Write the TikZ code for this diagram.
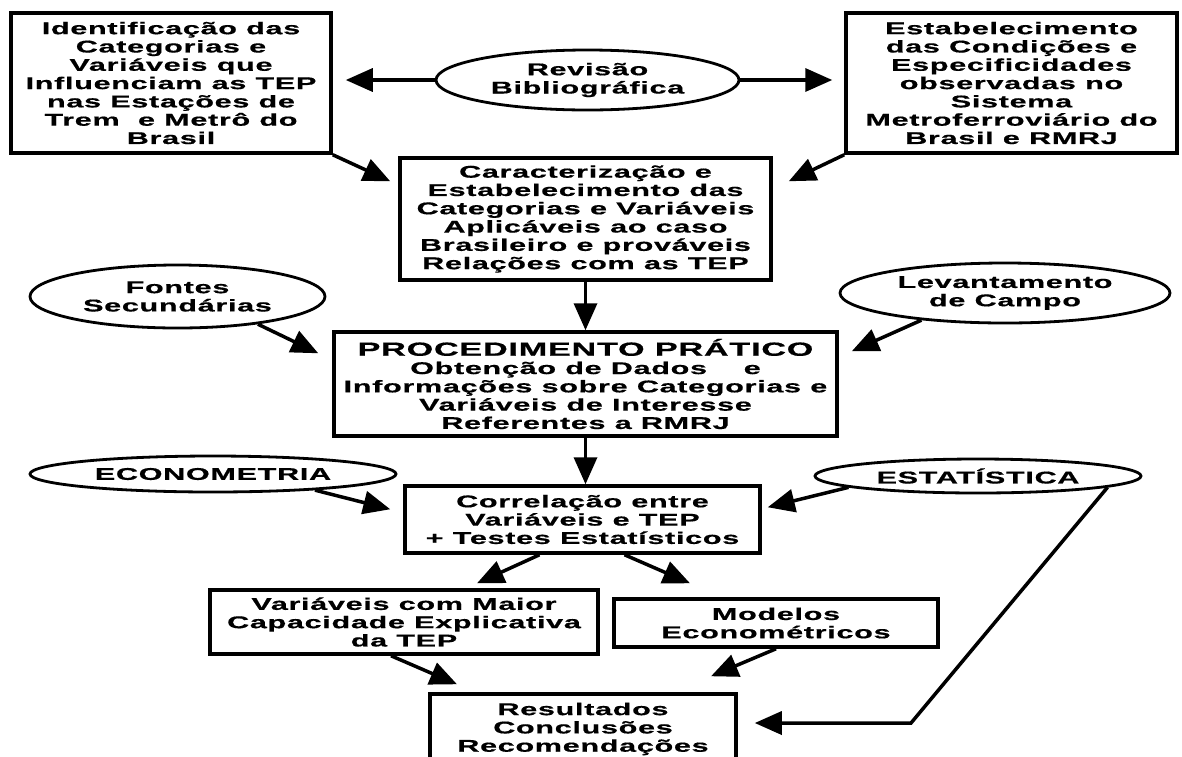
\documentclass[tikz,border=0pt]{standalone}
\usepackage{fontspec}
\newfontfamily\diagfont{Liberation Sans Bold}[FakeStretch=1.8,LetterSpace=4,FakeBold=0.6]
\usepackage{tikz}
\usetikzlibrary{shapes,arrows,arrows.meta}
\tikzstyle{block} = [rectangle, draw, line width=3.5pt, fill=white,
    align=center, inner sep=2pt, font=\diagfont\fontsize{17}{18.3}\selectfont]
\tikzstyle{source} = [ellipse, draw, line width=2.8pt, fill=white,
    align=center, inner sep=0pt, font=\diagfont\fontsize{17}{18.3}\selectfont]
\tikzstyle{line} = [draw, line width=3.5pt, -{Triangle[length=27pt,width=23pt]}]

\begin{document}
\begin{tikzpicture}[x=1pt, y=-1pt, auto]
\useasboundingbox (0,0) rectangle (1182,756);
    % Place nodes
\node [block, minimum width=320pt, minimum height=140pt] (ident) at (171,83)
    {Identificação das\\Categorias e\\Variáveis que\\Influenciam as TEP\\nas Estações de\\Trem\ \ e Metrô do\\Brasil};
\node [source, minimum width=303pt, minimum height=60pt] (rev) at (587.5,80)
    {Revisão\\Bibliográfica};
\node [block, minimum width=331pt, minimum height=140pt] (estab) at (1011.5,83)
    {Estabelecimento\\das Condições e\\Especificidades\\observadas no\\Sistema\\Metroferroviário do\\Brasil e RMRJ};
\node [block, minimum width=371pt, minimum height=122pt] (carac) at (585.5,219)
    {Caracterização e\\Estabelecimento das\\Categorias e Variáveis\\Aplicáveis ao caso\\Brasileiro e prováveis\\Relações com as TEP};
\node [source, minimum width=295pt, minimum height=63pt] (fontes) at (177.5,296.5)
    {Fontes\\Secundárias};
\node [source, minimum width=330pt, minimum height=60pt] (campo) at (1005,293)
    {Levantamento\\de Campo};
\node [block, minimum width=503pt, minimum height=104pt] (proc) at (585.5,384)
    {{\fontsize{19}{21}\selectfont PROCEDIMENTO PRÁTICO}\\Obtenção de Dados\ \ \ \ e\\Informações sobre Categorias e\\Variáveis de Interesse\\Referentes a RMRJ};
\node [source, minimum width=366pt, minimum height=36pt] (econ) at (213,474)
    {ECONOMETRIA};
\node [source, minimum width=326pt, minimum height=34pt] (estat) at (978,476)
    {ESTATÍSTICA};
\node [block, minimum width=355pt, minimum height=67pt] (correl) at (582.5,519.5)
    {Correlação entre\\Variáveis e TEP\\+ Testes Estatísticos};
\node [block, minimum width=388pt, minimum height=64pt] (varmax) at (404,622)
    {Variáveis com Maior\\Capacidade Explicativa\\da TEP};
\node [block, minimum width=324pt, minimum height=48pt] (model) at (776,623)
    {Modelos\\Econométricos};
\node [block, minimum width=306pt, minimum height=70pt] (result) at (583,729)
    {Resultados\\Conclusões\\Recomendações};
\coordinate (bend) at (911,723);

    % Draw edges
\path [line] (rev.west) -- ([xshift=13pt]rev.west -| ident.east);
\path [line] (rev.east) -- ([xshift=-12pt]rev.east -| estab.west);
\path [line] (ident.south east) -- ([shift={(-8,25)}]carac.north west);
\path [line] (estab.south west) -- ([shift={(16,25)}]carac.north east);
\path [line] (carac) -- (proc);
\path [line] (fontes.-19) -- ([shift={(-14,23)}]proc.north west);
\path [line] (campo.198) -- ([shift={(13,21)}]proc.north east);
\path [line] (proc.south) -- (proc.south |- correl.north);
\path [line] (econ.-9) -- ([shift={(-13,25)}]correl.north west);
\path [line] (estat.185) -- ([shift={(6,23)}]correl.north east);
\path [line] ([xshift=-43pt]correl.south) -- ([shift={(73,-5)}]varmax.north);
\path [line] ([xshift=42pt]correl.south) -- ([shift={(-86,-14)}]model.north);
\path [line] ([xshift=-13pt]varmax.south) -- ([shift={(-126,-8)}]result.north);
\path [line] (model.south) -- ([shift={(128,-16)}]result.north);
\path [line] (estat.-5) -- (bend) -- ([xshift=17pt]bend -| result.east);

\end{tikzpicture}
\end{document}
